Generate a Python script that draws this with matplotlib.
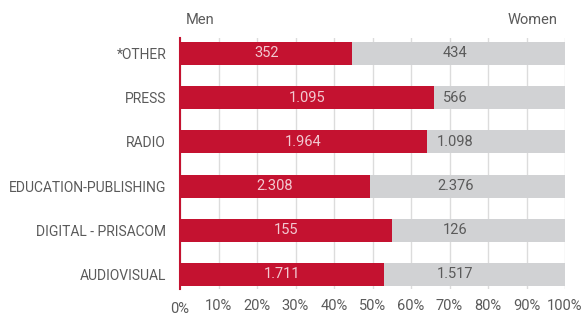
import numpy as np
import matplotlib.pyplot as plt
import matplotlib.transforms as mtrans

# data
categories = ["*OTHER", "PRESS", "RADIO", "EDUCATION-PUBLISHING",
              "DIGITAL - PRISACOM", "AUDIOVISUAL"]
men = [352, 1095, 1964, 2308, 155, 1711]
women = [434, 566, 1098, 2376, 126, 1517]
men_labels = ["352", "1.095", "1.964", "2.308", "155", "1.711"]
women_labels = ["434", "566", "1.098", "2.376", "126", "1.517"]
ticks = np.arange(0, 101, 10)

RED = "#c41230"
GREY = "#d1d2d4"
TXT = "#5a5a5a"

plt.rcParams["font.family"] = ["Roboto", "DejaVu Sans"]
FS = 10.5

men = np.array(men, dtype=float)
women = np.array(women, dtype=float)
total = men + women
men_pct = men / total * 100
women_pct = women / total * 100
y = np.arange(len(categories))

fig = plt.figure(figsize=(5.83, 3.16), dpi=100)
ax = fig.add_axes([180 / 583, 27 / 316, 385 / 583, 251 / 316])

ax.barh(y, men_pct, height=0.52, color=RED, zorder=2)
ax.barh(y, women_pct, left=men_pct, height=0.52, color=GREY, zorder=2)

for i in range(len(categories)):
    ax.text(men_pct[i] / 2, y[i], men_labels[i], ha="center", va="center",
            color="#f2c9d1", fontsize=FS, zorder=3)
    ax.text(71.5, y[i], women_labels[i], ha="center", va="center",
            color=TXT, fontsize=FS, zorder=3)

ax.set_xlim(0, 100)
ax.set_ylim(5.33, -0.35)
ax.set_yticks(y)
ax.set_yticklabels(categories)
ax.set_xticks(ticks)
ax.set_xticklabels([f"{t}%" for t in ticks])
ax.tick_params(axis="both", length=0, colors=TXT)
ax.tick_params(axis="x", labelsize=FS, pad=7)
ax.tick_params(axis="y", labelsize=10, pad=10)
ax.xaxis.grid(True, color="#dcdcdc", linewidth=1, zorder=0)
ax.set_axisbelow(True)
for s in ["top", "right", "bottom"]:
    ax.spines[s].set_visible(False)
ax.spines["left"].set_color(RED)
ax.spines["left"].set_linewidth(1.5)
ax.spines["left"].set_zorder(4)

# the 0% label sits a little lower in the original
lab0 = ax.get_xticklabels()[0]
lab0.set_transform(lab0.get_transform() +
                   mtrans.ScaledTranslation(0, -3 / 100, fig.dpi_scale_trans))

fig.text(186 / 583, 1 - 20 / 316, "Men", ha="left", va="center",
         color=TXT, fontsize=FS)
fig.text(558 / 583, 1 - 20 / 316, "Women", ha="right", va="center",
         color=TXT, fontsize=FS)

fig.savefig("out.png", dpi=100)
